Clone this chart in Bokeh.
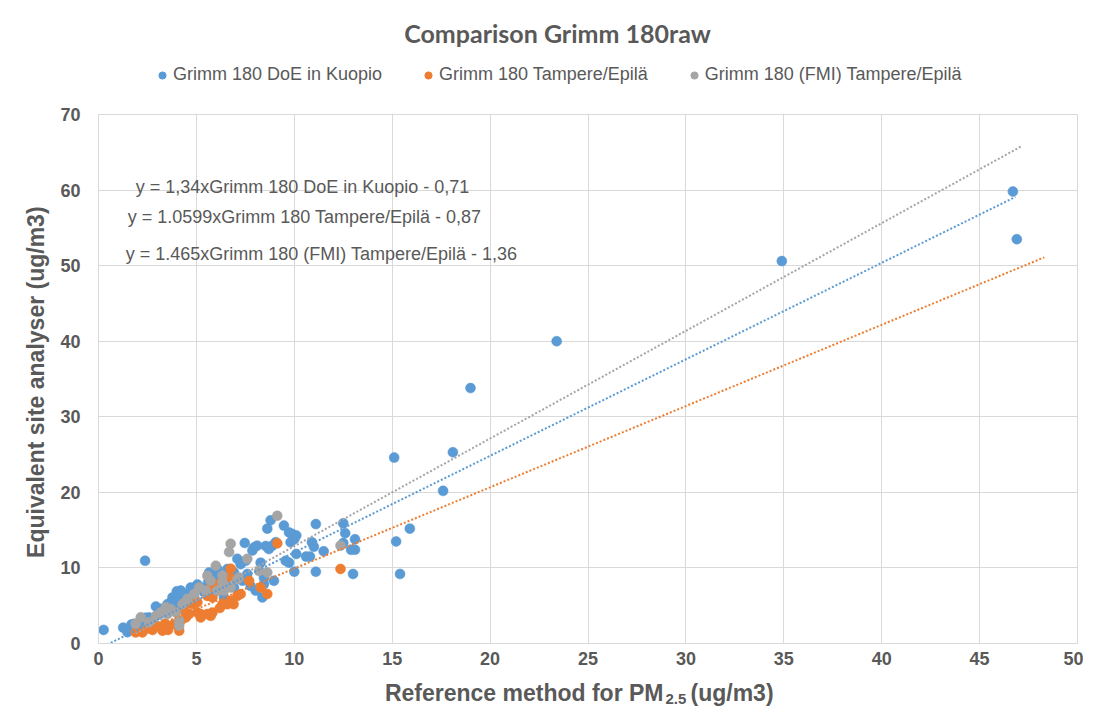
from bokeh.plotting import figure
from bokeh.layouts import column
from bokeh.models import Range1d, Label, Legend, LegendItem, ColumnDataSource, FixedTicker
from bokeh.embed import file_html
from bokeh.resources import INLINE

# ---------------- data ----------------
title_text = "Comparison Grimm 180raw"
series_names = ["Grimm 180 DoE in Kuopio", "Grimm 180 Tampere/Epilä", "Grimm 180 (FMI) Tampere/Epilä"]
series_colors = ["#5B9BD5", "#ED7D31", "#A5A5A5"]

doe_x = [46.7, 46.9, 34.9, 23.4, 19.0, 18.1, 15.1, 17.6, 15.9, 15.2, 15.4,
         11.1, 12.5, 12.6, 13.1, 12.5, 12.9, 13.1, 10.9, 11.0, 11.5, 10.6, 10.8, 10.1, 10.1, 11.1, 13.0, 10.0,
         0.26, 2.38, 1.26, 1.48, 1.68, 2.93, 3.1, 3.69, 4.2, 4.71, 5.05, 5.6, 4.23, 3.78, 6.16, 7.09, 7.47,
         7.94, 7.86, 8.54, 8.7, 8.79, 8.62, 8.88, 9.05, 9.47, 9.73, 9.9, 10.0, 9.81, 9.56, 9.73, 8.28, 8.45,
         8.37, 8.96, 8.1, 7.26, 7.52, 6.58, 6.92, 5.9, 6.07, 5.65, 4.88, 4.54, 3.95, 3.52, 3.18, 2.58, 2.16,
         1.82, 7.77, 8.03, 8.45, 6.41, 6.92, 7.35, 5.22, 5.39,
         2.0, 2.4, 2.7, 3.3, 3.9, 4.4, 4.0, 4.6, 5.8, 6.3, 6.5, 7.0, 7.6]
doe_y = [59.8, 53.5, 50.6, 40.0, 33.8, 25.3, 24.6, 20.2, 15.2, 13.5, 9.2,
         15.8, 15.9, 14.6, 13.8, 13.3, 12.4, 12.4, 13.4, 12.8, 12.2, 11.5, 11.5, 11.85, 14.3, 9.5, 9.2, 9.5,
         1.8, 10.95, 2.1, 1.5, 2.5, 4.9, 3.9, 5.45, 7.0, 7.4, 7.8, 8.1, 6.5, 6.1, 8.3, 11.2, 13.3,
         12.7, 12.3, 12.9, 12.5, 16.3, 15.2, 12.95, 13.4, 15.6, 14.7, 14.5, 13.8, 13.4, 10.95, 10.7, 10.7, 8.7,
         6.1, 8.3, 12.95, 10.5, 10.95, 9.86, 9.4, 8.75, 9.86, 9.4, 6.3, 5.9, 5.65, 5.2, 4.6, 3.45, 3.0,
         2.6, 7.6, 7.0, 7.86, 6.1, 7.4, 8.3, 7.4, 6.8,
         2.2, 3.4, 2.9, 4.2, 4.8, 5.2, 6.9, 6.6, 7.5, 7.0, 8.0, 8.6, 9.2]

tam_x = [1.9, 2.24, 2.76, 3.27, 3.55, 4.12, 3.86, 4.2, 4.46, 4.63, 5.05, 5.22, 5.56, 5.82, 5.22, 5.73,
         4.8, 5.05, 5.56, 5.82, 6.07, 6.33, 6.58, 6.75, 7.09, 7.26, 6.75, 6.67, 7.69, 8.28, 8.62, 9.13,
         12.36, 5.73, 5.99, 2.5, 3.0, 3.4, 4.4, 6.2, 6.9]
tam_y = [1.47, 1.47, 1.8, 1.7, 1.8, 1.7, 2.56, 3.0, 3.45, 3.9, 4.1, 3.9, 3.9, 4.1, 3.45, 3.66,
         5.2, 5.45, 6.3, 6.1, 7.0, 5.2, 5.2, 5.65, 6.3, 6.55, 9.9, 8.8, 8.3, 7.4, 6.55, 13.25,
         9.86, 7.4, 7.86, 2.0, 2.3, 2.6, 4.3, 4.7, 5.2]

fmi_x = [2.16, 2.58, 3.44, 4.12, 4.12, 1.9, 2.93, 3.18, 3.69, 4.29, 4.54, 4.88, 5.14, 5.56, 5.99,
         6.07, 6.41, 6.75, 7.09, 7.6, 6.67, 6.75, 6.33, 7.18, 8.2, 8.62, 9.13, 12.36, 5.73, 6.33,
         5.48, 3.52, 3.95]
fmi_y = [3.46, 2.8, 4.8, 3.0, 2.35, 2.6, 3.66, 4.1, 4.55, 5.2, 5.9, 6.55, 7.4, 8.96, 10.3,
         7.0, 7.0, 7.4, 8.5, 11.2, 12.1, 13.2, 8.96, 8.74, 9.6, 9.4, 16.9, 12.95, 8.3, 8.1,
         7.0, 3.9, 4.1]

# linear trend lines (slope, intercept, x extent)
trend_slope = [1.277, 1.075, 1.425]
trend_intercept = [-0.71, -0.83, -1.375]
trend_x_start = [0.26, 1.82, 1.9]
trend_x_end = [46.83, 48.3, 47.14]

equation_texts = ["y = 1,34xGrimm 180 DoE in Kuopio - 0,71",
                  "y = 1.0599xGrimm 180 Tampere/Epilä - 0,87",
                  "y = 1.465xGrimm 180 (FMI) Tampere/Epilä - 1,36"]

x_ticks = [0, 5, 10, 15, 20, 25, 30, 35, 40, 45, 50]
y_ticks = [0, 10, 20, 30, 40, 50, 60, 70]

x_label_main = "Reference method for PM"
x_label_sub = "2.5"
x_label_unit = "(ug/m3)"
y_label = "Equivalent site analyser  (ug/m3)"

# ---------------- styling ----------------
TXT = "#595959"
GRID = "#d9d9d9"
FONT = "Liberation Sans"
W = 1083
LEFT, RIGHT = 98, 6
HEAD_H = 100
FOOT_H = 32
MAIN_H = 575


def blank(height):
    # helper strip whose x data units equal page pixels
    f = figure(width=W, height=height, output_backend="svg", toolbar_location=None,
               x_range=Range1d(LEFT, W - RIGHT), y_range=Range1d(height, 0),
               x_axis_location=None, y_axis_location=None,
               min_border_left=LEFT, min_border_right=RIGHT, min_border_top=0, min_border_bottom=0)
    f.grid.visible = False
    f.outline_line_color = None
    f.background_fill_color = "white"
    f.border_fill_color = "white"
    return f


# ---------------- header: title + legend ----------------
head = blank(HEAD_H)
head.add_layout(Label(x=557, y=32, text=title_text, text_font="Lato", text_font_style="bold",
                      text_font_size="25px", text_color=TXT, text_align="center",
                      text_baseline="middle"))
items = []
for i in range(3):
    key_src = ColumnDataSource(dict(x=[float("nan")], y=[float("nan")]))
    key = head.scatter("x", "y", source=key_src, size=7, fill_color=series_colors[i],
                       line_color=series_colors[i])
    items.append(LegendItem(label=series_names[i], renderers=[key], index=0))
leg = Legend(items=items, location=(55, 15), orientation="horizontal",
             padding=0, margin=0, spacing=37, glyph_width=18, glyph_height=18,
             label_height=18, label_standoff=2,
             label_text_font=FONT, label_text_font_size="18px", label_text_color=TXT,
             background_fill_alpha=0, border_line_color=None)
head.add_layout(leg, "center")

# ---------------- main plot ----------------
p = figure(width=W, height=MAIN_H, output_backend="svg", toolbar_location=None,
           x_range=Range1d(0, 50), y_range=Range1d(0, 70),
           min_border_left=LEFT, min_border_right=RIGHT, min_border_top=14, min_border_bottom=32)
p.background_fill_color = "white"
p.border_fill_color = "white"
p.outline_line_color = GRID

for ax in (p.xaxis[0], p.yaxis[0]):
    ax.axis_line_color = GRID
    ax.major_tick_out = 0
    ax.major_tick_in = 0
    ax.minor_tick_out = 0
    ax.minor_tick_in = 0
    ax.major_label_text_font = FONT
    ax.major_label_text_font_style = "bold"
    ax.major_label_text_font_size = "18px"
    ax.major_label_text_color = TXT

p.xaxis[0].ticker = FixedTicker(ticks=x_ticks)
p.yaxis[0].ticker = FixedTicker(ticks=y_ticks)
p.xaxis[0].major_label_standoff = 8
p.yaxis[0].major_label_standoff = 18

p.yaxis[0].axis_label = y_label
p.yaxis[0].axis_label_text_font = FONT
p.yaxis[0].axis_label_text_font_style = "bold"
p.yaxis[0].axis_label_text_font_size = "23px"
p.yaxis[0].axis_label_text_color = TXT
p.yaxis[0].axis_label_standoff = 8

p.xgrid[0].ticker = FixedTicker(ticks=x_ticks)
p.ygrid[0].ticker = FixedTicker(ticks=y_ticks)
p.xgrid.grid_line_color = GRID
p.ygrid.grid_line_color = GRID

xs = [doe_x, tam_x, fmi_x]
ys = [doe_y, tam_y, fmi_y]
for i in range(3):
    src = ColumnDataSource(dict(x=xs[i], y=ys[i]))
    p.scatter("x", "y", source=src, size=10, fill_color=series_colors[i],
              line_color=series_colors[i], line_width=0.5)

for i in range(3):
    x0, x1 = trend_x_start[i], trend_x_end[i]
    ly = [trend_slope[i] * x0 + trend_intercept[i], trend_slope[i] * x1 + trend_intercept[i]]
    p.line([x0, x1], ly, line_color=series_colors[i], line_width=2, line_dash="2 2")

eq_pos = [(1.90, 60.37), (1.49, 56.5), (1.39, 51.6)]
for t, (ex, ey) in zip(equation_texts, eq_pos):
    p.add_layout(Label(x=ex, y=ey, text=t, text_font=FONT, text_font_size="18px",
                       text_color=TXT, text_baseline="middle", text_align="left"))

# ---------------- footer: x axis title with subscript ----------------
foot = blank(FOOT_H)
foot.add_layout(Label(x=663, y=17, text=x_label_main, text_font=FONT, text_font_style="bold",
                      text_font_size="23px", text_color=TXT, text_align="right",
                      text_baseline="middle"))
foot.add_layout(Label(x=665, y=23, text=x_label_sub, text_font=FONT, text_font_style="bold",
                      text_font_size="15px", text_color=TXT, text_align="left",
                      text_baseline="middle"))
foot.add_layout(Label(x=690, y=17, text=x_label_unit, text_font=FONT, text_font_style="bold",
                      text_font_size="23px", text_color=TXT, text_align="left",
                      text_baseline="middle"))

layout = column(head, p, foot, spacing=0)
open("out.html", "w").write(file_html(layout, INLINE))
